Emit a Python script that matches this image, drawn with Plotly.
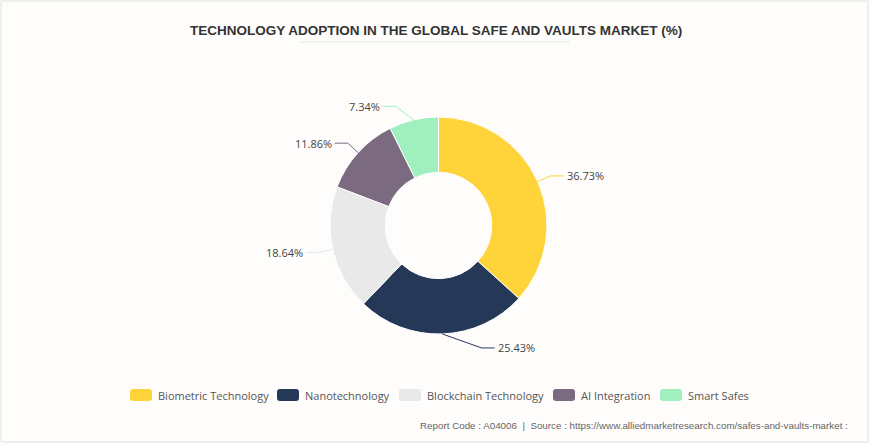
import math
import plotly.graph_objects as go

# ---- data ----
categories = ["Biometric Technology", "Nanotechnology", "Blockchain Technology", "AI Integration", "Smart Safes"]
shares = [36.73, 25.43, 18.64, 11.86, 7.34]
label_texts = ["36.73%", "25.43%", "18.64%", "11.86%", "7.34%"]
colors = ["#FFD43B", "#253858", "#E9E9E9", "#7B6A80", "#9FEFBF"]

title_text = "TECHNOLOGY ADOPTION IN THE GLOBAL SAFE AND VAULTS MARKET (%)"
footer_text = "Report Code : A04006\u00a0\u00a0|\u00a0\u00a0Source : https://www.alliedmarketresearch.com/safes-and-vaults-market :"

# ---- layout constants (pixels) ----
W, H = 871, 445
CX, CY, R = 438.5, 225.5, 108.5
HOLE = 0.49
LEN1, LEN2, MIN_DX = 14, 13, 43
LEG_X = [130, 277, 399, 553, 660]
LEG_Y, SW_W, SW_H = 395, 22, 12
FONT = "Open Sans"

fig = go.Figure()
fig.add_trace(go.Pie(
    labels=categories, values=shares, sort=False, direction="clockwise", rotation=0,
    hole=HOLE, textinfo="none", hoverinfo="label+percent",
    marker=dict(colors=colors, line=dict(color="#ffffff", width=1)),
    domain=dict(x=[(CX - R) / W, (CX + R) / W], y=[1 - (CY + R) / H, 1 - (CY - R) / H]),
    showlegend=False,
))
# invisible pixel axes for overlay placement
fig.add_trace(go.Scatter(x=[0, W], y=[0, H], mode="markers", marker=dict(opacity=0),
                         hoverinfo="skip", showlegend=False))

shapes = []
annotations = []
total = sum(shares)
cum = 0.0
for cat, v, txt, col in zip(categories, shares, label_texts, colors):
    mid = (cum + v / 2) / total * 2 * math.pi
    cum += v
    dx, dy = math.sin(mid), -math.cos(mid)
    ex, ey = CX + R * dx, CY + R * dy
    bx, by = CX + (R + LEN1) * dx, CY + (R + LEN1) * dy
    side = 1 if dx >= 0 else -1
    if abs(bx - CX) < MIN_DX:
        bx = CX + side * MIN_DX
    tx = bx + side * LEN2
    shapes.append(dict(type="path", xref="x", yref="y",
                       path=f"M{ex},{ey} L{bx},{by} L{tx},{by}",
                       line=dict(color=col, width=1), layer="above"))
    annotations.append(dict(x=tx + side * 1, y=by, xref="x", yref="y", text=txt, showarrow=False,
                            xanchor="left" if side > 0 else "right", yanchor="middle",
                            font=dict(family=FONT, size=11, color="#444444")))

# legend
for x0, cat, col in zip(LEG_X, categories, colors):
    x1, y0, y1, r = x0 + SW_W, LEG_Y - SW_H / 2, LEG_Y + SW_H / 2, 3
    shapes.append(dict(type="path", xref="x", yref="y",
                       path=(f"M{x0+r},{y0} L{x1-r},{y0} Q{x1},{y0} {x1},{y0+r} L{x1},{y1-r} "
                             f"Q{x1},{y1} {x1-r},{y1} L{x0+r},{y1} Q{x0},{y1} {x0},{y1-r} "
                             f"L{x0},{y0+r} Q{x0},{y0} {x0+r},{y0} Z"),
                       fillcolor=col, line=dict(width=0)))
    annotations.append(dict(x=x1 + 4, y=LEG_Y, xref="x", yref="y", text=cat, showarrow=False,
                            xanchor="left", yanchor="middle",
                            font=dict(family=FONT, size=11, color="#555555")))

# title & underline
annotations.append(dict(x=436, y=30, xref="x", yref="y", text=f"<b>{title_text}</b>", showarrow=False,
                        xanchor="center", yanchor="middle",
                        font=dict(family="Liberation Sans", size=13.5, color="#333333")))
shapes.append(dict(type="line", xref="x", yref="y", x0=300, x1=570, y0=42, y1=42,
                   line=dict(color="#eeeeee", width=1.5)))
# footer
annotations.append(dict(x=850, y=425, xref="x", yref="y", text=footer_text, showarrow=False,
                        xanchor="right", yanchor="middle",
                        font=dict(family="Liberation Sans", size=9.8, color="#666666")))
# border
shapes.append(dict(type="rect", xref="x", yref="y", x0=1, y0=1, x1=868, y1=442,
                   line=dict(color="#e0e0e0", width=1)))

fig.update_layout(
    width=W, height=H, margin=dict(l=0, r=0, t=0, b=0),
    paper_bgcolor="#fefdfb", plot_bgcolor="rgba(0,0,0,0)",
    xaxis=dict(range=[0, W], visible=False, fixedrange=True, domain=[0, 1]),
    yaxis=dict(range=[H, 0], visible=False, fixedrange=True, domain=[0, 1]),
    shapes=shapes, annotations=annotations, showlegend=False,
)
fig.write_html("out.html", config={"displayModeBar": False},
               post_script="document.body.style.margin='0';document.body.style.overflow='hidden';")
